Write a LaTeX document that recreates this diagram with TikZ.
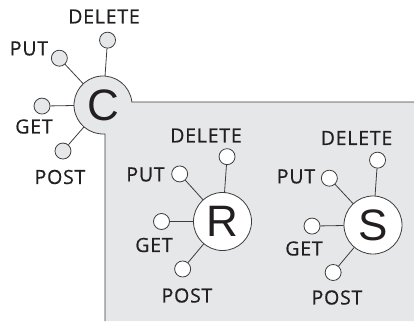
\documentclass[tikz,border=0pt]{standalone}
\usepackage{fontspec}
\setmainfont{Liberation Sans}
\newfontfamily\labfont[LetterSpace=4,FakeBold=0.6]{Open Sans}
\definecolor{bg}{RGB}{230,231,232}
\definecolor{ink}{RGB}{35,31,32}
\definecolor{edge}{RGB}{60,60,60}
\begin{document}
\begin{tikzpicture}[x=1pt,y=1pt,
  bigc/.style={circle,minimum size=58pt,inner sep=0pt,font=\fontsize{44}{44}\selectfont,text=ink},
  smallc/.style={circle,minimum size=16pt,inner sep=0pt,draw=edge,line width=0.8pt},
  lab/.style={font=\labfont\fontsize{19.5}{19.5}\selectfont,text=ink,inner sep=0pt},
  conn/.style={draw=edge,line width=0.8pt}]
\useasboundingbox (0,0) rectangle (414,-321);
% gray region
\fill[bg] (414,-102) -- (131.85,-102) arc[start angle=5.94,end angle=273.95,radius=29] -- (105,-321) -- (414,-321) -- cycle;
\draw[edge,line width=0.8pt] (414,-102) -- (131.85,-102) arc[start angle=5.94,end angle=273.95,radius=29] -- (105,-321);
% C
\node[bigc] (C) at (103,-105) {C};
\node[smallc,fill=bg] (Cd) at ([shift={(86:65)}]C) {};
\node[smallc,fill=bg] (Cp) at ([shift={(133:64)}]C) {};
\node[smallc,fill=bg] (Cg) at ([shift={(181:61)}]C) {};
\node[smallc,fill=bg] (Co) at ([shift={(229:61)}]C) {};
\draw[conn] (C) -- (Cd);
\draw[conn] (C) -- (Cp);
\draw[conn] (C) -- (Cg);
\draw[conn] (C) -- (Co);
\node[lab] (Cdl) at (104,-16.5) {DELETE};
\node[lab] (Cpl) at (29,-48.5) {PUT};
\node[lab] (Cgl) at (34,-126.5) {GET};
\node[lab] (Col) at (60,-177) {POST};
% R
\node[bigc,fill=white,draw=edge,line width=0.8pt] (R) at (222.5,-221.5) {R};
\node[smallc,fill=white] (Rd) at ([shift={(86:65)}]R) {};
\node[smallc,fill=white] (Rp) at ([shift={(132:64)}]R) {};
\node[smallc,fill=white] (Rg) at ([shift={(180:61)}]R) {};
\node[smallc,fill=white] (Ro) at ([shift={(230:62)}]R) {};
\draw[conn] (R) -- (Rd);
\draw[conn] (R) -- (Rp);
\draw[conn] (R) -- (Rg);
\draw[conn] (R) -- (Ro);
\node[lab] (Rdl) at (206,-135.5) {DELETE};
\node[lab] (Rpl) at (145.5,-174.5) {PUT};
\node[lab] (Rgl) at (154,-245) {GET};
\node[lab] (Rol) at (187,-295.5) {POST};
% S
\node[bigc,fill=white,draw=edge,line width=0.8pt] (S) at (373,-225) {S};
\node[smallc,fill=white] (Sd) at ([shift={(86:65)}]S) {};
\node[smallc,fill=white] (Sp) at ([shift={(133:64)}]S) {};
\node[smallc,fill=white] (Sg) at ([shift={(181:61)}]S) {};
\node[smallc,fill=white] (So) at ([shift={(230:62)}]S) {};
\draw[conn] (S) -- (Sd);
\draw[conn] (S) -- (Sp);
\draw[conn] (S) -- (Sg);
\draw[conn] (S) -- (So);
\node[lab] (Sdl) at (356.5,-138) {DELETE};
\node[lab] (Spl) at (296,-176.5) {PUT};
\node[lab] (Sgl) at (304,-248.5) {GET};
\node[lab] (Sol) at (337,-297.5) {POST};
\end{tikzpicture}
\end{document}
